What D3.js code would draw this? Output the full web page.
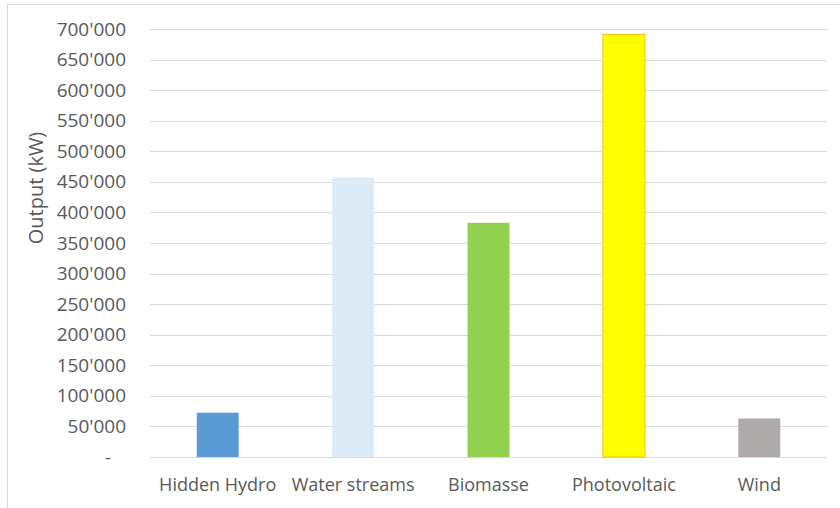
<!DOCTYPE html>
<html>
<head>
<meta charset="utf-8">
<script src="https://cdn.jsdelivr.net/npm/d3@7"></script>
<style>
  html, body { margin: 0; padding: 0; background: #ffffff; }
  svg { display: block; }
  text { font-family: "Open Sans", "Noto Sans", sans-serif; fill: #595959; }
</style>
</head>
<body>
<svg id="chart" width="840" height="508"></svg>
<script>
const categories = ["Hidden Hydro", "Water streams", "Biomasse", "Photovoltaic", "Wind"];
const values = [72500, 457000, 383000, 691000, 63000];
const colors = ["#5B9BD5", "#DDEBF7", "#92D050", "#FFFF00", "#AEAAAA"];
const strokes = ["none", "none", "none", "#FFC000", "none"];
const yTickValues = [0, 50000, 100000, 150000, 200000, 250000, 300000, 350000, 400000, 450000, 500000, 550000, 600000, 650000, 700000];
const yTickLabels = ["-", "50'000", "100'000", "150'000", "200'000", "250'000", "300'000", "350'000", "400'000", "450'000", "500'000", "550'000", "600'000", "650'000", "700'000"];
const yTitle = "Output (kW)";

const svg = d3.select("#chart");
const W = 840, H = 508;
const plot = { left: 150, right: 827, top: 29, bottom: 457 };

// outer chart border
svg.append("rect")
  .attr("x", 7.5).attr("y", 4.5)
  .attr("width", W - 7.5 + 10).attr("height", H)
  .attr("fill", "#ffffff")
  .attr("stroke", "#d9d9d9").attr("stroke-width", 1);

const x = d3.scaleBand()
  .domain(categories)
  .range([plot.left, plot.right])
  .paddingInner(0.69)
  .paddingOuter(0.345);

const y = d3.scaleLinear()
  .domain([0, 700000])
  .range([plot.bottom, plot.top]);

// gridlines
const grid = svg.append("g")
  .attr("transform", `translate(${plot.left},0)`)
  .call(d3.axisLeft(y).tickValues(yTickValues).tickSize(-(plot.right - plot.left)).tickFormat(""));
grid.select(".domain").remove();
grid.selectAll(".tick line").attr("stroke", "#d9d9d9").attr("stroke-width", 1)
  .attr("shape-rendering", "crispEdges");

// y axis labels
const yAxis = svg.append("g")
  .attr("transform", `translate(${plot.left},0)`)
  .call(d3.axisLeft(y).tickValues(yTickValues).tickSize(0).tickPadding(24)
    .tickFormat((d, i) => yTickLabels[i] === "-" ? "-\u00a0\u00a0\u00a0" : yTickLabels[i]));
yAxis.select(".domain").remove();
yAxis.selectAll("text")
  .style("font-size", "19px")
  .style("fill", "#595959");

// bars
svg.append("g").selectAll("rect")
  .data(categories)
  .join("rect")
  .attr("x", d => x(d))
  .attr("width", x.bandwidth())
  .attr("y", (d, i) => y(values[i]))
  .attr("height", (d, i) => y(0) - y(values[i]))
  .attr("fill", (d, i) => colors[i])
  .attr("stroke", (d, i) => strokes[i])
  .attr("stroke-width", 1);

// x axis labels
const xAxis = svg.append("g")
  .attr("transform", `translate(0,${plot.bottom})`)
  .call(d3.axisBottom(x).tickSize(0).tickPadding(21));
xAxis.select(".domain").remove();
xAxis.selectAll("text")
  .style("font-size", "18px")
  .style("fill", "#595959");

// y axis title
svg.append("text")
  .attr("transform", `translate(35,188) rotate(-90)`)
  .attr("text-anchor", "middle")
  .attr("dominant-baseline", "central")
  .style("font-size", "20px")
  .style("fill", "#595959")
  .text(yTitle);
</script>
</body>
</html>
